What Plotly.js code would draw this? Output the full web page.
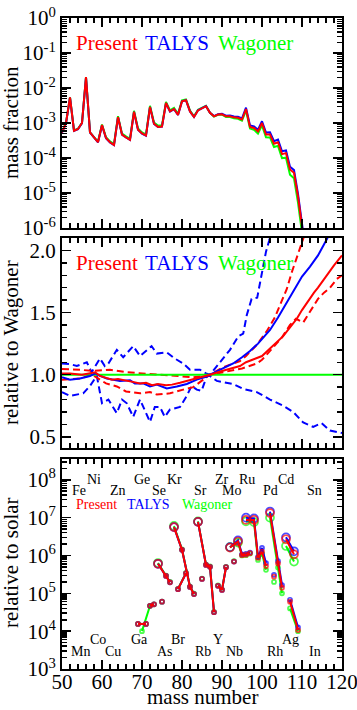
<!DOCTYPE html>
<html><head><meta charset="utf-8">
<script src="https://cdn.plot.ly/plotly-3.0.1.min.js"></script>
<style>html,body{margin:0;padding:0;background:#fff}#chart{width:357px;height:710px}</style>
</head><body><div id="chart"></div>
<script>
// ---------- Panel 1: mass fraction ----------
const massA = [50,51,52,53,54,55,56,57,58,59,60,61,62,63,64,65,66,67,68,69,70,71,72,73,74,75,76,77,78,79,80,81,82,83,84,85,86,87,88,89,90,91,92,93,94,95,96,97,98,99,100,101,102,103,104,105,106,107,108,109,110,111];
const presentMF = [5.37e-4,1.0e-3,5.37e-3,6.03e-4,6.76e-4,1.0e-3,2.04e-2,5.37e-4,3.89e-4,2.82e-4,8.71e-4,3.72e-4,2.82e-4,2.34e-4,1.48e-3,4.68e-4,3.89e-4,3.31e-4,2.09e-3,6.46e-4,5.01e-4,4.37e-4,2.88e-3,9.55e-4,7.76e-4,7.94e-4,3.72e-3,2.14e-3,2.51e-3,1.70e-3,4.17e-3,4.47e-3,2.14e-3,1.48e-3,2.29e-3,2.63e-3,3.02e-3,1.95e-3,1.55e-3,1.74e-3,1.78e-3,1.55e-3,1.55e-3,1.45e-3,1.41e-3,1.26e-3,2.51e-3,7.76e-4,7.24e-4,5.75e-4,1.0e-3,4.68e-4,4.68e-4,2.57e-4,2.82e-4,1.29e-4,1.38e-4,4.68e-5,3.80e-5,7.94e-6,1.12e-6,1.58e-7];
const talysMF = [5.3e-4,9.9e-4,5.3e-3,5.95e-4,6.7e-4,9.9e-4,2.03e-2,5.35e-4,3.9e-4,2.8e-4,8.6e-4,3.68e-4,2.78e-4,2.33e-4,1.47e-3,4.66e-4,3.85e-4,3.3e-4,2.07e-3,6.4e-4,4.98e-4,4.33e-4,2.86e-3,9.45e-4,7.7e-4,7.85e-4,3.68e-3,2.12e-3,2.5e-3,1.7e-3,4.15e-3,4.45e-3,2.14e-3,1.49e-3,2.3e-3,2.65e-3,3.05e-3,1.96e-3,1.58e-3,1.78e-3,1.83e-3,1.61e-3,1.63e-3,1.53e-3,1.52e-3,1.36e-3,2.74e-3,8.53e-4,8.01e-4,6.4e-4,1.12e-3,5.31e-4,5.42e-4,3.02e-4,3.37e-4,1.56e-4,1.65e-4,5.61e-5,4.51e-5,9.47e-6,1.34e-6,1.89e-7];
const wagonerMF = [5.5e-4,1.02e-3,5.45e-3,6.1e-4,6.85e-4,1.01e-3,2.05e-2,5.4e-4,3.95e-4,2.95e-4,9.1e-4,3.9e-4,2.98e-4,2.48e-4,1.57e-3,4.98e-4,4.15e-4,3.55e-4,2.23e-3,6.95e-4,5.4e-4,4.7e-4,3.1e-3,1.03e-3,8.4e-4,8.6e-4,4.0e-3,2.3e-3,2.7e-3,1.83e-3,4.45e-3,4.75e-3,2.28e-3,1.56e-3,2.4e-3,2.72e-3,3.08e-3,1.96e-3,1.53e-3,1.71e-3,1.73e-3,1.49e-3,1.48e-3,1.37e-3,1.32e-3,1.16e-3,2.28e-3,6.99e-4,6.41e-4,5.0e-4,8.55e-4,3.93e-4,3.87e-4,2.07e-4,2.22e-4,9.92e-5,1.02e-4,3.34e-5,2.62e-5,5.29e-6,7.23e-7,9.9e-8];

// ---------- Panel 2: ratio to Wagoner ----------
const presRatioA = [50,52,55,57,58.3,59.5,61,62.5,64,66,68,69.5,71,72.5,74,76,77.5,79.5,82,84.5,87,90,92,94.5,96,98.7,100,102,104,105.3,107,108.7,110,111.2,113,114,116.2,118,120];
const presRatio  = [1.01,1.01,1.0,1.01,1.02,0.99,0.975,0.96,0.965,0.95,0.94,0.93,0.935,0.915,0.925,0.915,0.92,0.935,0.955,0.975,1.0,1.03,1.05,1.07,1.10,1.13,1.15,1.21,1.27,1.31,1.38,1.45,1.52,1.58,1.66,1.70,1.80,1.88,1.96];
const presHighA = [50,54.5,57.5,62,66,70.3,74.5,78.7,82.8,86.2,87,90.3,94.5,96,98.7,101.2,103.2,104.5,106.2,107.4,108.5,110.3,111];
const presHigh  = [1.045,1.04,1.03,1.04,1.02,1.01,1.0,0.99,0.98,0.99,1.0,1.06,1.11,1.15,1.24,1.35,1.46,1.56,1.69,1.82,1.92,2.09,2.16];
const presLowA = [50,54.5,57.5,58.5,61,63.7,66,69.5,72,73.7,77,80.3,82.8,85.3,87,90.3,95,98.7,100,102.8,105,107,108.5,110.3,112.8,114,115.5,117,118.7,120];
const presLow  = [0.96,0.97,1.0,0.98,0.93,0.905,0.865,0.85,0.86,0.84,0.85,0.88,0.90,0.96,1.0,1.02,1.05,1.09,1.12,1.22,1.30,1.40,1.45,1.42,1.55,1.61,1.66,1.70,1.77,1.80];
const talysRatioA = [50,52,54.5,57,58.3,59.5,61.2,63.2,64.5,67,68.2,70.3,72,73.7,76.2,78.7,81.2,83.7,86.2,87,90,92.8,95,97,99,100.3,102,104,106,108,110,112,114,116.2,117];
const talysRatio  = [0.98,0.96,0.97,0.99,1.01,0.99,0.97,0.955,0.95,0.955,0.93,0.93,0.905,0.92,0.89,0.905,0.925,0.96,0.985,1.0,1.05,1.09,1.14,1.19,1.25,1.30,1.36,1.46,1.57,1.68,1.79,1.87,1.96,2.09,2.14];
const talysHighA = [50,52,53.7,56.2,57.4,59.5,60.7,61.6,63.7,65.3,67.8,69.5,72.4,73.7,76.2,78.2,80.3,82,84.5,86,87,89.5,92,94.1,95.3,96.2,97.4,98.8,99.9,101,101.8,102.2];
const talysHigh  = [1.09,1.085,1.07,1.10,1.02,1.13,1.07,1.09,1.20,1.14,1.23,1.15,1.23,1.17,1.18,1.13,1.09,1.04,1.04,1.01,1.0,1.10,1.20,1.31,1.33,1.48,1.61,1.62,1.80,1.99,2.08,2.15];
const talysLowA = [50,52,55.3,57,58.7,60,61.6,63.7,65,66.2,67.8,69.5,72,73.2,74.5,75.7,77,79.5,81.2,82.4,83.7,84.9,86.2,87,88.7,92.8,95.3,98.7,102,105.3,107.8,110.3,112.8,114.9,117,120];
const talysLow  = [0.86,0.83,0.85,0.91,0.99,0.77,0.80,0.69,0.80,0.77,0.66,0.80,0.62,0.74,0.74,0.66,0.72,0.74,0.83,0.91,0.88,0.87,0.99,0.99,0.95,0.925,0.885,0.86,0.80,0.75,0.70,0.615,0.58,0.61,0.55,0.53];
const wagRefA = [50,120];
const wagRef  = [1.0,1.0];

// ---------- Panel 3: relative to solar ----------
const solarIso = ['Ga69','Ga71',null,'Ge72','Ge73',null,'As75',null,'Se74','Se76','Se77',null,'Kr78','Kr80','Kr82','Kr83',null,'Br79','Br81',null,'Rb85',null,'Sr84','Sr86','Sr87','Sr88',null,'Y89','Zr90','Zr91',null,'Nb93',null,'Mo92','Mo94','Mo95','Mo96','Mo97',null,'Ru96','Ru98','Ru99','Ru100','Ru101',null,'Pd102','Pd104','Pd105',null,'Rh103',null,'Cd106','Cd108',null,'Ag107','Ag109'];
const solarA = [69,71,null,72,73,null,75,null,74,76,77,null,78,80,82,83,null,79,81,null,85,null,84,86,87,88,null,89,90,91,null,93,null,92,94,95,96,97,null,96,98,99,100,101,null,102,104,105,null,103,null,106,108,null,107,109];
const presentSolar = [1.55e4,1.55e4,null,4.68e4,5.13e4,null,6.03e4,null,6.03e5,2.88e5,1.95e5,null,5.62e6,1.41e6,1.48e5,9.55e4,null,1.29e5,3.39e5,null,2.40e5,null,7.76e6,5.62e5,5.01e5,3.16e4,null,1.58e5,1.23e5,4.90e5,null,6.92e5,null,1.62e6,2.34e6,1.02e6,1.05e6,1.15e6,null,8.71e6,8.71e6,8.71e5,1.26e6,5.25e5,null,1.32e7,6.17e5,1.41e5,null,2.75e5,null,2.69e6,1.07e6,null,6.03e4,1.07e4];
const talysSolar = [1.55e4,1.55e4,null,4.68e4,5.13e4,null,6.03e4,null,6.03e5,2.88e5,1.95e5,null,5.62e6,1.41e6,1.48e5,9.55e4,null,1.29e5,3.39e5,null,2.40e5,null,7.76e6,5.62e5,5.01e5,3.16e4,null,1.58e5,1.23e5,4.90e5,null,6.92e5,null,1.66e6,2.51e6,1.07e6,1.10e6,1.20e6,null,1.0e7,9.55e6,9.12e5,1.58e6,6.31e5,null,1.45e7,7.08e5,1.66e5,null,3.09e5,null,3.02e6,1.29e6,null,6.76e4,1.26e4];
const wagIso = ['Ga69','Ga71',null,'Ge70','Ge72','Ge73',null,'As75',null,'Se74','Se76','Se77',null,'Kr78','Kr80','Kr82','Kr83',null,'Br79','Br81',null,'Rb85',null,'Sr84','Sr86','Sr87','Sr88',null,'Y89','Zr90','Zr91',null,'Nb93',null,'Mo92','Mo94','Mo95','Mo96','Mo97',null,'Ru96','Ru98','Ru99','Ru100','Ru101',null,'Pd102','Pd104','Pd105',null,'Rh103',null,'Cd106','Cd108',null,'Ag107','Ag109'];
const wagA = [69,71,null,70,72,73,null,75,null,74,76,77,null,78,80,82,83,null,79,81,null,85,null,84,86,87,88,null,89,90,91,null,93,null,92,94,95,96,97,null,96,98,99,100,101,null,102,104,105,null,103,null,106,108,null,107,109];
const wagSolar = [1.55e4,1.55e4,null,1.0e4,4.68e4,5.13e4,null,6.03e4,null,6.31e5,2.95e5,2.0e5,null,6.03e6,1.45e6,1.51e5,9.77e4,null,1.32e5,3.47e5,null,2.45e5,null,7.94e6,5.75e5,5.13e5,3.24e4,null,1.62e5,1.26e5,5.01e5,null,7.08e5,null,1.66e6,2.19e6,1.0e6,1.02e6,1.12e6,null,7.94e6,7.59e6,7.59e5,1.12e6,4.17e5,null,1.0e7,4.79e5,1.0e5,null,2.0e5,null,1.78e6,6.92e5,null,3.98e4,1.0e4];
const pNuclei = ['Se74','Kr78','Sr84','Mo92','Mo94','Ru96','Ru98','Pd102','Cd106','Cd108'];

// element labels
const elemTop1 = ['Ni','Ge','Kr','Zr','Ru','Cd'];
const elemTop1A = [58.1,70,78.2,90.0,96.2,106];
const elemTop2 = ['Fe','Zn','Se','Sr','Mo','Pd','Sn'];
const elemTop2A = [54.3,64.1,74.3,84.5,92.4,102.2,113];
const elemBot1 = ['Co','Ga','Br','Y','Ag'];
const elemBot1A = [58.9,69.3,79.1,89.1,107];
const elemBot2 = ['Mn','Cu','As','Rb','Nb','Rh','In'];
const elemBot2A = [54.7,62.8,75.7,85.2,93,103.2,113.3];

// tick labels
const xTicks = [50,60,70,80,90,100,110,120];
const mfExp = [-6,-5,-4,-3,-2,-1,0];
const solarExp = [3,4,5,6,7,8];
const ratioTicks = [0.5,1.0,1.5,2.0];

const models = ['Present','TALYS','Wagoner'];
const RED='#ff0000', BLUE='#0000ff', GREEN='#00ff00';
const FONT = "'Liberation Serif', 'Times New Roman', serif";

function line(x,y,color,xa,ya,dash){
  return {type:'scatter',mode:'lines',x:x,y:y,xaxis:xa,yaxis:ya,showlegend:false,hoverinfo:'skip',
    line:{color:color,width:2,dash:dash||'solid'}};
}
function solarTrace(x,y,iso,color){
  return {type:'scatter',mode:'lines+markers',x:x,y:y,xaxis:'x3',yaxis:'y3',showlegend:false,connectgaps:false,
    line:{color:color,width:2},
    marker:{symbol:'circle-open',color:color,size:iso.map(s=>pNuclei.includes(s)?8:4),line:{width:1.7,color:color}}};
}
const D='7px,4px';
const traces = [
  line(massA,wagonerMF,GREEN,'x','y'),
  line(massA,talysMF,BLUE,'x','y'),
  line(massA,presentMF,RED,'x','y'),
  line(talysHighA,talysHigh,BLUE,'x2','y2',D),
  line(talysLowA,talysLow,BLUE,'x2','y2',D),
  line(presHighA,presHigh,RED,'x2','y2',D),
  line(presLowA,presLow,RED,'x2','y2',D),
  line(wagRefA,wagRef,GREEN,'x2','y2'),
  line(talysRatioA,talysRatio,BLUE,'x2','y2'),
  line(presRatioA,presRatio,RED,'x2','y2'),
  solarTrace(wagA,wagSolar,wagIso,GREEN),
  solarTrace(solarA,talysSolar,solarIso,BLUE),
  solarTrace(solarA,presentSolar,solarIso,RED)
];

const H=651;
function py(p){return (669-p)/H;}
function px(p){return (p-62)/280;}

const TF = {family:FONT,size:21,color:'#000'};
function xax(anchor,labels){
  return {domain:[0,1],anchor:anchor,range:[50,120],tickmode:'array',tickvals:xTicks,ticktext:xTicks.map(String),
    ticks:'inside',ticklen:9,tickwidth:1.5,tickcolor:'#000',
    minor:{tickmode:'linear',tick0:50,dtick:2,ticks:'inside',ticklen:5,tickwidth:1.5,tickcolor:'#000'},
    mirror:'allticks',showline:true,linewidth:2,linecolor:'#000',showgrid:false,zeroline:false,
    showticklabels:labels,ticklabeloverflow:'allow',ticklabelstandoff:-7,tickfont:TF};
}
function logMinor(e0,e1){const v=[];for(let e=e0;e<e1;e++)for(let m=2;m<=9;m++)v.push(m*Math.pow(10,e));return v;}
function yax(dom,anchor,extra){
  return Object.assign({domain:dom,anchor:anchor,ticks:'inside',ticklen:9,tickwidth:1.5,tickcolor:'#000',
    mirror:'allticks',showline:true,linewidth:2,linecolor:'#000',showgrid:false,zeroline:false,
    ticklabeloverflow:'allow',tickfont:TF},extra);
}
const annotations = [];
function ann(text,x,y,opts){annotations.push(Object.assign({text:text,x:x,y:y,xref:'paper',yref:'paper',showarrow:false,
  font:{family:FONT,size:21,color:'#000'},xanchor:'center',yanchor:'middle'},opts||{}));}
const legendColors=[RED,BLUE,GREEN];
const bigLegX=[74,143.3,216], smallLegX=[74,125,180];
models.forEach((m,i)=>{
  ann(m,px(bigLegX[i]),py(43.3),{xanchor:'left',font:{family:FONT,size:21,color:legendColors[i]}});
  ann(m,px(bigLegX[i]),py(263.3),{xanchor:'left',font:{family:FONT,size:21,color:legendColors[i]}});
  ann(m,px(smallLegX[i]),py(504.3),{xanchor:'left',font:{family:FONT,size:14,color:legendColors[i]}});
});
ann('mass fraction',px(11),py(123),{textangle:-90});
ann('relative to Wagoner',px(11),py(343),{textangle:-90});
ann('relative to solar',px(11),py(563),{textangle:-90});
ann('mass number',0.5,py(710),{yanchor:'bottom',borderpad:0});
function elems(names,As,pyv){names.forEach((n,i)=>annotations.push({text:n,x:As[i],y:py(pyv),xref:'x3',yref:'paper',showarrow:false,
  font:{family:FONT,size:14,color:'#000'},xanchor:'center',yanchor:'middle'}));}
elems(elemTop1,elemTop1A,479.3);
elems(elemTop2,elemTop2A,490.7);
elems(elemBot1,elemBot1A,639.3);
elems(elemBot2,elemBot2A,651);

const minorStyle = {ticks:'inside',ticklen:5,tickwidth:1.5,tickcolor:'#000'};
const layout = {
  width:357,height:710,margin:{l:62,r:15,t:18,b:41},paper_bgcolor:'#fff',plot_bgcolor:'#fff',
  showlegend:false,font:{family:FONT,color:'#000'},
  xaxis:xax('y',false),
  xaxis2:xax('y2',false),
  xaxis3:xax('y3',true),
  yaxis:yax([py(228),1],'x',{type:'log',range:[-6,0],tickmode:'array',
    tickvals:mfExp.map(e=>Math.pow(10,e)),ticktext:mfExp.map(e=>'10<sup>'+e+'</sup>'),
    minor:Object.assign({tickmode:'array',tickvals:logMinor(-6,0)},minorStyle)}),
  yaxis2:yax([py(448),py(238)],'x2',{range:[0.41,2.1],tickmode:'array',tickvals:ratioTicks,ticktext:ratioTicks.map(v=>v.toFixed(1)),
    minor:Object.assign({tickmode:'linear',tick0:0.5,dtick:0.1},minorStyle)}),
  yaxis3:yax([0,py(459)],'x3',{type:'log',range:[3,8.55],tickmode:'array',
    tickvals:solarExp.map(e=>Math.pow(10,e)),ticktext:solarExp.map(e=>'10<sup>'+e+'</sup>'),
    minor:Object.assign({tickmode:'array',tickvals:logMinor(3,9)},minorStyle)}),
  annotations:annotations
};
Plotly.newPlot('chart',traces,layout,{staticPlot:true,displayModeBar:false});
</script></body></html>
